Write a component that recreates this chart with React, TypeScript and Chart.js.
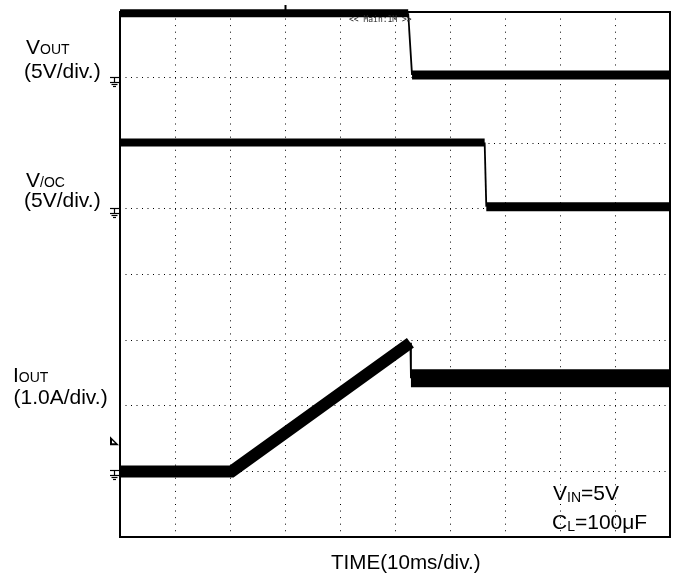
import React, { useEffect, useRef } from "react";
import { Chart, registerables } from "chart.js";

Chart.register(...registerables);

// ---- axes (oscilloscope grid: 10 ms/div, 10 x 8 divisions) ----
const TIME_MIN_MS = 0;
const TIME_MAX_MS = 100;
const TIME_STEP_MS = 10;
const DIV_MIN = 0;
const DIV_MAX = 8;

// ---- V_OUT channel: 5 V/div, ground reference at division 7 ----
const voutTimeMs = [0, 52.4, 53.1, 100];
const voutVolts = [4.9, 4.9, 0.2, 0.2];
const VOUT_GROUND_DIV = 7;
const VOUT_PER_DIV = 5;

// ---- V_/OC channel: 5 V/div, ground reference at division 5 ----
const vocTimeMs = [0, 66.3, 66.6, 100];
const vocVolts = [5.05, 5.05, 0.17, 0.17];
const VOC_GROUND_DIV = 5;
const VOC_PER_DIV = 5;

// ---- I_OUT channel: 1.0 A/div, ground reference at division 1 ----
const ioutTimeMs = [0, 20.3, 52.8, 52.9, 100];
const ioutAmps = [0, 0, 1.96, 1.42, 1.42];
const IOUT_GROUND_DIV = 1;
const IOUT_PER_DIV = 1;
const TRIGGER_LEVEL_A = 0.46;
const TRIGGER_TIME_MS = 30;

const toDivPoints = (t: number[], v: number[], ground: number, perDiv: number) =>
  t.map((x, i) => ({ x, y: ground + v[i] / perDiv }));

const FONT = "'Liberation Sans', Arial, Helvetica, sans-serif";

const framePlugin = {
  id: "scopeFrame",
  beforeDatasetsDraw(chart: any) {
    const { ctx, chartArea: a } = chart;
    ctx.save();
    ctx.strokeStyle = "#000";
    ctx.lineWidth = 2;
    ctx.strokeRect(a.left, a.top, a.right - a.left, a.bottom - a.top);
    ctx.restore();
  },
  afterDraw(chart: any) {
    const { ctx, chartArea: a, scales } = chart;
    const y = scales.y;
    const x = scales.x;
    ctx.save();
    ctx.strokeStyle = "#000";
    ctx.fillStyle = "#000";
    ctx.lineWidth = 1.2;
    const grounds = [VOUT_GROUND_DIV, VOC_GROUND_DIV, IOUT_GROUND_DIV];
    grounds.forEach((g) => {
      const y0 = Math.round(y.getPixelForValue(g)) + 0.5;
      const l = a.left - 10;
      const seg = (x1: number, y1: number, x2: number, y2: number) => {
        ctx.beginPath();
        ctx.moveTo(x1, y1);
        ctx.lineTo(x2, y2);
        ctx.stroke();
      };
      seg(l, y0 - 1, l + 9, y0 - 1);
      seg(l + 4.5, y0 - 1, l + 4.5, y0 + 4);
      seg(l, y0 + 4, l + 9, y0 + 4);
      seg(l + 1.5, y0 + 6, l + 7.5, y0 + 6);
      seg(l + 3, y0 + 8, l + 6, y0 + 8);
    });
    // trigger level marker (I_OUT channel)
    const ty = y.getPixelForValue(IOUT_GROUND_DIV + TRIGGER_LEVEL_A / IOUT_PER_DIV);
    const tl = a.left - 10;
    ctx.beginPath();
    ctx.moveTo(tl, ty - 5);
    ctx.lineTo(tl, ty + 4);
    ctx.lineTo(tl + 9, ty + 4);
    ctx.closePath();
    ctx.fill();
    ctx.fillStyle = "#fff";
    ctx.beginPath();
    ctx.moveTo(tl + 2, ty - 1);
    ctx.lineTo(tl + 2, ty + 2);
    ctx.lineTo(tl + 5, ty + 2);
    ctx.closePath();
    ctx.fill();
    // trigger time marker on top edge
    const tx = Math.round(x.getPixelForValue(TRIGGER_TIME_MS)) + 0.5;
    ctx.lineWidth = 2;
    ctx.beginPath();
    ctx.moveTo(tx, a.top - 7);
    ctx.lineTo(tx, a.top);
    ctx.stroke();
    ctx.restore();
  },
};

export default function App() {
  const canvasRef = useRef<HTMLCanvasElement | null>(null);

  useEffect(() => {
    if (!canvasRef.current) return;
    const thin = 1.8;
    const bandSegment = (base: number, after?: { from: number; width: number }, ramp?: { idx: number; width: number }) => ({
      borderWidth: (ctx: any) => {
        if (Math.abs(ctx.p1.x - ctx.p0.x) < 8) return thin;
        if (after && ctx.p0DataIndex >= after.from) return after.width;
        if (ramp && ctx.p0DataIndex === ramp.idx) return ramp.width;
        return base;
      },
    });
    const clip = { left: 0, right: 0, top: 10, bottom: 0 };
    const chart = new Chart(canvasRef.current, {
      type: "line",
      data: {
        datasets: [
          {
            label: "VOUT",
            data: toDivPoints(voutTimeMs, voutVolts, VOUT_GROUND_DIV, VOUT_PER_DIV),
            borderColor: "#000",
            borderWidth: 8,
            pointRadius: 0,
            clip,
            segment: bandSegment(8, { from: 2, width: 9 }),
          } as any,
          {
            label: "V/OC",
            data: toDivPoints(vocTimeMs, vocVolts, VOC_GROUND_DIV, VOC_PER_DIV),
            borderColor: "#000",
            borderWidth: 8,
            pointRadius: 0,
            clip,
            segment: bandSegment(8, { from: 2, width: 9 }),
          } as any,
          {
            label: "IOUT",
            data: toDivPoints(ioutTimeMs, ioutAmps, IOUT_GROUND_DIV, IOUT_PER_DIV),
            borderColor: "#000",
            borderWidth: 12,
            pointRadius: 0,
            clip,
            borderJoinStyle: "miter",
            segment: bandSegment(12, { from: 3, width: 18 }, { idx: 1, width: 12 }),
          } as any,
        ],
      },
      options: {
        animation: false,
        responsive: false,
        maintainAspectRatio: false,
        devicePixelRatio: 1,
        layout: { padding: { left: 120, right: 12, top: 12, bottom: 41 } },
        plugins: { legend: { display: false }, tooltip: { enabled: false } },
        scales: {
          x: {
            type: "linear",
            min: TIME_MIN_MS,
            max: TIME_MAX_MS,
            ticks: { display: false, stepSize: TIME_STEP_MS },
            grid: { color: "#000", lineWidth: 1, drawTicks: false },
            border: { display: false, dash: [1, 5.56] },
          },
          y: {
            type: "linear",
            min: DIV_MIN,
            max: DIV_MAX,
            ticks: { display: false, stepSize: 1 },
            grid: { color: "#000", lineWidth: 1, drawTicks: false },
            border: { display: false, dash: [1, 4.5] },
          },
        },
      },
      plugins: [framePlugin],
    });
    return () => chart.destroy();
  }, []);

  const lab = (F: number, left: number, baseline: number): React.CSSProperties => ({
    position: "absolute",
    left,
    top: baseline - 0.8465 * F,
    fontSize: F,
    lineHeight: `${F}px`,
    fontFamily: FONT,
    color: "#000",
    whiteSpace: "nowrap",
  });
  const sub = (size: number, drop = 0): React.CSSProperties => ({ fontSize: size, verticalAlign: drop ? `-${drop}px` : "baseline" });

  return (
    <div style={{ position: "fixed", left: 0, top: 0, width: 682, height: 578, background: "#fff" }}>
      <canvas ref={canvasRef} width={682} height={578} style={{ display: "block", width: 682, height: 578 }} />
      <div style={lab(21, 26, 54)}>V<span style={sub(14)}>OUT</span></div>
      <div style={lab(21, 24, 78)}>(5V/div.)</div>
      <div style={lab(21, 26, 187)}>V<span style={sub(14)}>/OC</span></div>
      <div style={lab(21, 24, 207)}>(5V/div.)</div>
      <div style={lab(21, 13, 382)}>I<span style={sub(14)}>OUT</span></div>
      <div style={lab(21, 13.5, 404)}>(1.0A/div.)</div>
      <div style={lab(21, 553, 500)}>V<span style={sub(14, 2)}>IN</span>=5V</div>
      <div style={lab(21, 552, 529)}>C<span style={sub(14, 2)}>L</span>=100μF</div>
      <div style={lab(20.6, 331, 569)}>TIME(10ms/div.)</div>
      <div style={{ position: "absolute", left: 349, top: 16, fontSize: 8, lineHeight: "8px", fontFamily: "'DejaVu Sans Mono', monospace", color: "#222", whiteSpace: "nowrap" }}>
        {"<< Main:1M >>"}
      </div>
    </div>
  );
}
